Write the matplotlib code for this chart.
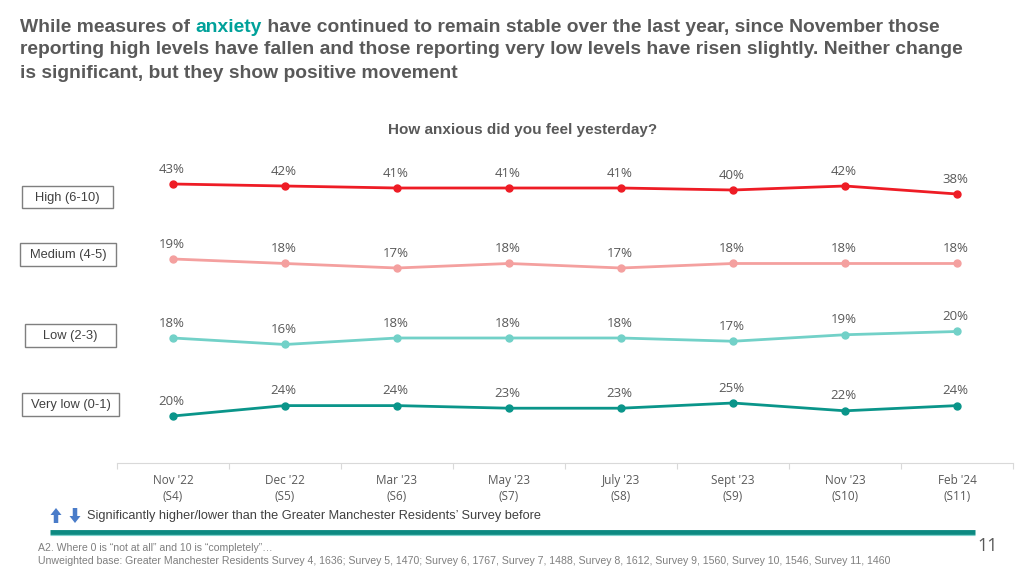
import matplotlib
matplotlib.use("Agg")
import matplotlib.pyplot as plt
from matplotlib.patches import FancyArrow, Rectangle

# survey waves
waves = ["Nov '22", "Dec '22", "Mar '23", "May '23", "July '23", "Sept '23", "Nov '23", "Feb '24"]
surveys = ["(S4)", "(S5)", "(S6)", "(S7)", "(S8)", "(S9)", "(S10)", "(S11)"]

# % reporting each level of anxiety
high = [43, 42, 41, 41, 41, 40, 42, 38]
medium = [19, 18, 17, 18, 17, 18, 18, 18]
low = [18, 16, 18, 18, 18, 17, 19, 20]
very_low = [20, 24, 24, 23, 23, 25, 22, 24]

band_names = ["High (6-10)", "Medium (4-5)", "Low (2-3)", "Very low (0-1)"]

W, H = 1024, 576
fig = plt.figure(figsize=(W / 100, H / 100), dpi=100)
plt.rcParams['font.family'] = ['Liberation Sans', 'DejaVu Sans']

GREY = '#595959'
num_font = 'Open Sans'

# one band per series: (values, colour, top px, bottom px, ylim)
bands = [
    (high, '#ee1c25', 150, 220, (25, 60)),
    (medium, '#f4a09f', 235, 290, (12.11, 24.33)),
    (low, '#72d1c8', 305, 360, (11.23, 28.15)),
    (very_low, '#0a958a', 380, 463, (1.92, 33.85)),
]

x = list(range(len(waves)))
left_px, right_px = 117, 1013
axes = []
for vals, col, top, bot, yl in bands:
    ax = fig.add_axes([left_px / W, 1 - bot / H, (right_px - left_px) / W, (bot - top) / H])
    ax.plot(x, vals, '-o', color=col, lw=2, ms=5, zorder=3)
    for xi, v in zip(x, vals):
        ax.annotate(f"{v}%", (xi, v), xytext=(-1, 6), textcoords='offset points',
                    ha='center', va='bottom', fontsize=9.5, color=GREY, family=num_font)
    ax.set_xlim(-0.5, len(waves) - 0.5)
    ax.set_ylim(*yl)
    ax.patch.set_alpha(0)
    for s in ax.spines.values():
        s.set_visible(False)
    ax.set_yticks([])
    ax.set_xticks([])
    axes.append(ax)

# x axis on the bottom band
ax = axes[-1]
ax.spines['bottom'].set_visible(True)
ax.spines['bottom'].set_color('#d9d9d9')
ax.set_xticks([i - 0.5 for i in range(len(waves) + 1)])
ax.set_xticklabels([])
ax.tick_params(axis='x', which='major', length=4, color='#d9d9d9')
ax.set_xticks(x, minor=True)
ax.set_xticklabels([f"{w}\n{s}" for w, s in zip(waves, surveys)], minor=True,
                   fontsize=8.5, color=GREY, family=num_font, linespacing=1.25)
ax.tick_params(axis='x', which='minor', length=0, pad=8)

# overlay in pixel coordinates for the slide furniture
ov = fig.add_axes([0, 0, 1, 1], zorder=-1)
ov.set_xlim(0, W)
ov.set_ylim(H, 0)
ov.axis('off')

# title with highlighted word
r = fig.canvas.get_renderer()
tkw = dict(fontsize=13.9, fontweight='bold', va='center', ha='left',
           family=['Liberation Sans Narrow', 'Liberation Sans'])
parts = [("While measures of ", GREY), ("anxiety", '#00a19a'),
         (" have continued to remain stable over the last year, since November those", GREY)]
xp = 20
for txt, c in parts:
    t = ov.text(xp, 27, txt, color=c, **tkw)
    bb = t.get_window_extent(renderer=r)
    xp += bb.width
ov.text(20, 50, "reporting high levels have fallen and those reporting very low levels have risen slightly. Neither change",
        color=GREY, **tkw)
ov.text(20, 73, "is significant, but they show positive movement", color=GREY, **tkw)

ov.text(523, 130, "How anxious did you feel yesterday?", fontsize=11, fontweight='bold',
        color=GREY, ha='center', va='center')

# band labels in fixed boxes
boxes = [(22, 186, 91, 22), (20, 243, 96, 23), (25, 324, 91, 23), (22, 393, 97, 23)]
for name, (bx, by, bw, bh) in zip(band_names, boxes):
    ov.add_patch(Rectangle((bx, by), bw, bh, fc='white', ec='#7f7f7f', lw=1))
    ov.text(bx + bw / 2, by + bh / 2 + 0.5, name, fontsize=9.3, color='#404040',
            ha='center', va='center')

# significance legend
blue = '#4a7cc9'
ov.add_patch(FancyArrow(56, 523, 0, -15, width=4.5, head_width=11, head_length=7,
                        length_includes_head=True, color=blue, lw=0))
ov.add_patch(FancyArrow(75, 508, 0, 15, width=4.5, head_width=11, head_length=7,
                        length_includes_head=True, color=blue, lw=0))
ov.text(87, 516, "Significantly higher/lower than the Greater Manchester Residents\u2019 Survey before",
        fontsize=9.15, color='#404040', va='center', ha='left')

ov.plot([50, 975], [532, 532], color='#0d8a82', lw=3.5, solid_capstyle='butt')
ov.plot([50, 975], [534.5, 534.5], color='#7fd3cd', lw=0.8, solid_capstyle='butt')

ov.text(988, 546, "11", fontsize=13, color=GREY, ha='center', va='center', family=num_font)
ov.text(38, 548, "A2. Where 0 is \u201cnot at all\u201d and 10 is \u201ccompletely\u201d\u2026",
        fontsize=7.6, color='#7f7f7f', va='center', ha='left')
ov.text(38, 561, "Unweighted base: Greater Manchester Residents Survey 4, 1636; Survey 5, 1470; Survey 6, 1767, "
        "Survey 7, 1488, Survey 8, 1612, Survey 9, 1560, Survey 10, 1546, Survey 11, 1460",
        fontsize=7.6, color='#7f7f7f', va='center', ha='left')

fig.savefig("out.png", dpi=100)
